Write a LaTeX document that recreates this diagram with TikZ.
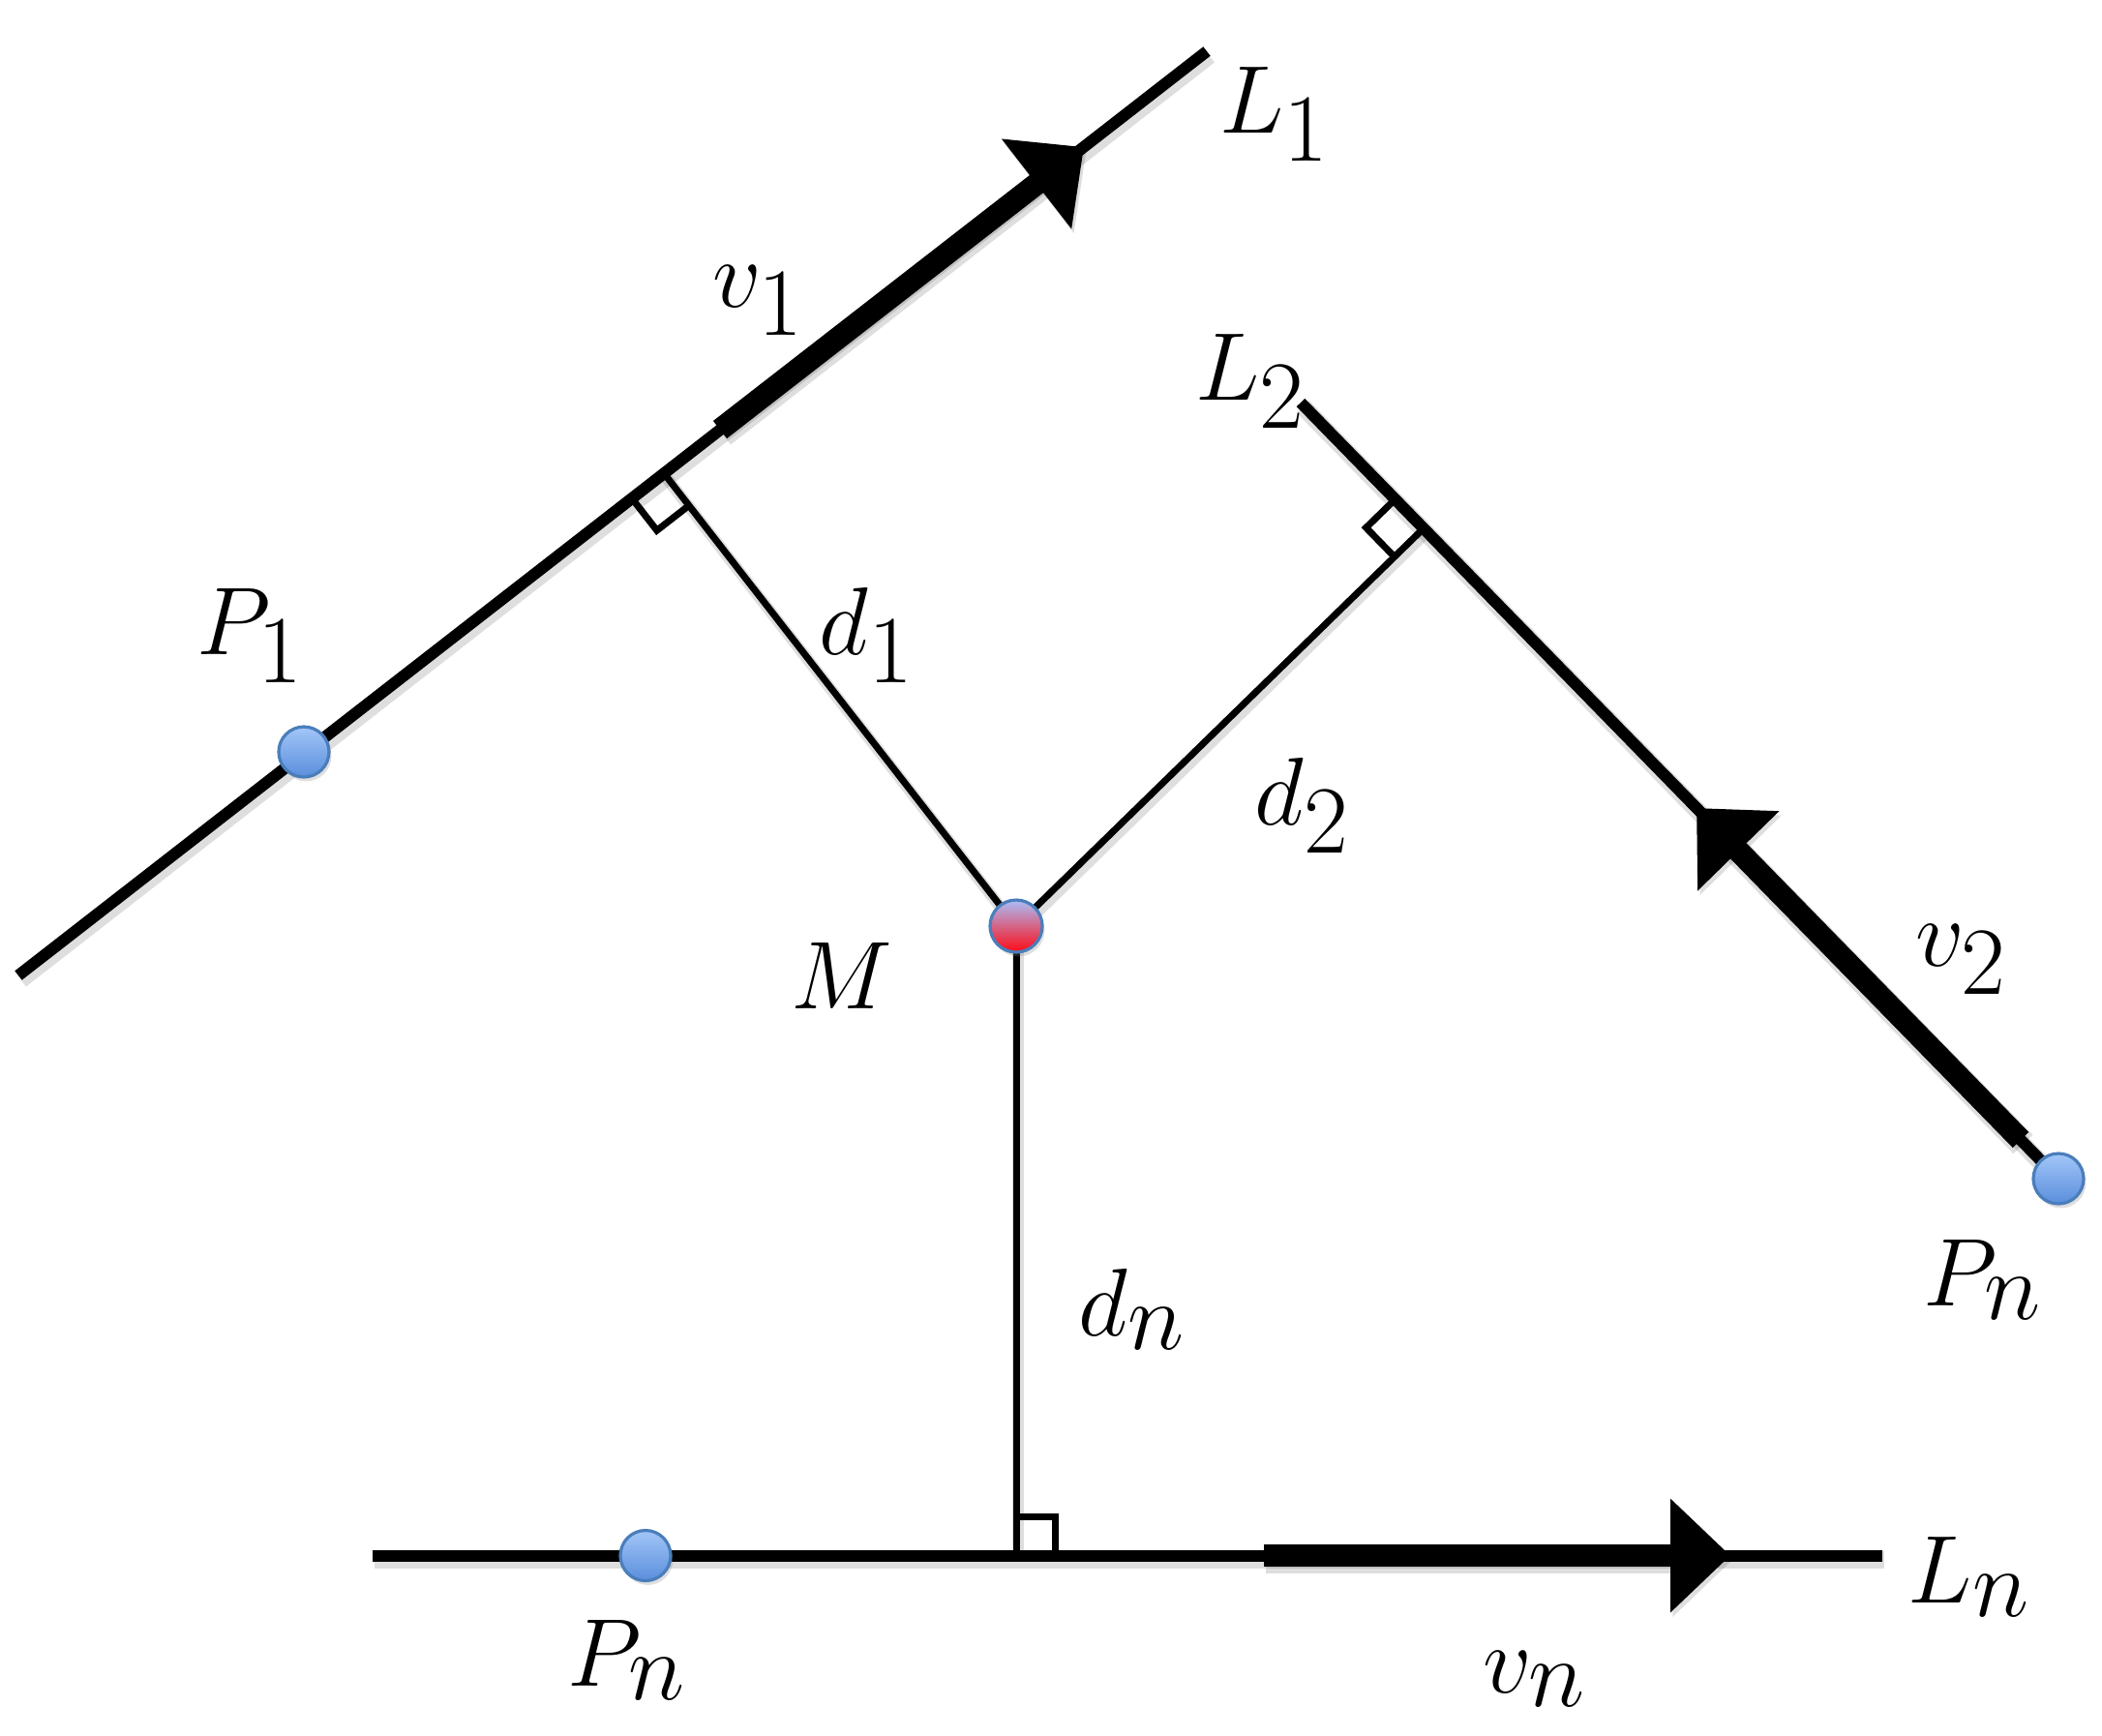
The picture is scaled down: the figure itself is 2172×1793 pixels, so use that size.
\documentclass[tikz,border=0pt]{standalone}
\usetikzlibrary{arrows.meta,calc,shadows}
\DeclareMathSizes{32}{32}{25}{20}
\definecolor{dotblueA}{HTML}{A3C6F8}
\definecolor{dotblueB}{HTML}{5A8EDC}
\definecolor{dotedge}{HTML}{4A7EBB}
\definecolor{mtop}{HTML}{A9BEF8}
\definecolor{mbot}{HTML}{FF0A14}
\pgfdeclarelayer{bg}
\pgfdeclarelayer{paper}
\pgfsetlayers{paper,bg,main}
\begin{document}
\begin{tikzpicture}[x=0.25pt,y=-0.25pt,
  softshadow/.style={preaction={draw=black,opacity=0.13,line width=#1,transform canvas={shift={(0.6pt,-1.1pt)}}}},
  thinline/.style={line width=3pt,softshadow=4.5pt},
  thickline/.style={line width=5.75pt,softshadow=7pt,-{Triangle[length=15.5pt,width=28.5pt]}},
  perpline/.style={line width=1.75pt,softshadow=3pt},
  rightmark/.style={line width=1.75pt},
  dotshadow/.style={drop shadow={opacity=0.25,shadow xshift=0.6pt,shadow yshift=-1.1pt}},
  bluedot/.style={circle,minimum size=13pt,inner sep=0pt,draw=dotedge,line width=0.8pt,top color=dotblueA,bottom color=dotblueB,dotshadow},
  reddot/.style={circle,minimum size=13.5pt,inner sep=0pt,draw=dotedge,line width=0.8pt,top color=mtop,bottom color=mbot,dotshadow},
  lbl/.style={anchor=base,inner sep=0pt,font=\fontsize{32}{38}\selectfont}]
\begin{pgfonlayer}{paper}
\fill[white] (0,0) rectangle (2172,1793);
\end{pgfonlayer}
\useasboundingbox (0,0) rectangle (2172,1793);

% line end points
\coordinate (L1s) at (19,1008);
\coordinate (L1e) at (1247,53);
\coordinate (V1s) at (744,444);
\coordinate (V1t) at (1120,152);
\coordinate (L2s) at (1344,416);
\coordinate (V2s) at (2088,1178);
\coordinate (V2t) at (1753,835);
\coordinate (Lns) at (385,1607.5);
\coordinate (Lne) at (1945,1607.5);
\coordinate (Vns) at (1306,1607.5);
\coordinate (Vnt) at (1788,1607.5);

% points
\node[reddot] (M) at (1050,957) {};
\node[bluedot] (P1) at (314,777) {};
\node[bluedot] (Pr) at (2127,1218) {};
\node[bluedot] (Pb) at (667,1607.5) {};

% feet of perpendiculars
\coordinate (F1) at ($(L1s)!(M.center)!(L1e)$);
\coordinate (F2) at ($(L2s)!(M.center)!(Pr.center)$);
\coordinate (F3) at ($(Lns)!(M.center)!(Lne)$);

\begin{pgfonlayer}{bg}
\draw[thinline] (L1s) -- (L1e);
\draw[thickline] (V1s) -- (V1t);
\draw[thinline] (L2s) -- (Pr.center);
\draw[thickline] (V2s) -- (V2t);
\draw[thinline] (Lns) -- (Lne);
\draw[thickline] (Vns) -- (Vnt);
\draw[perpline] (M.center) -- (F1);
\draw[perpline] (M.center) -- (F2);
\draw[perpline] (M.center) -- (F3);
% right-angle marks
\coordinate (A1) at ($(F1)!10.5pt!(L1s)$);
\coordinate (B1) at ($(F1)!10.5pt!(M.center)$);
\draw[rightmark] (A1) -- ($(A1)+(B1)-(F1)$) -- (B1);
\coordinate (A2) at ($(F2)!10.5pt!(L2s)$);
\coordinate (B2) at ($(F2)!10.5pt!(M.center)$);
\draw[rightmark] (A2) -- ($(A2)+(B2)-(F2)$) -- (B2);
\coordinate (A3) at ($(F3)!10pt!(Lne)$);
\coordinate (B3) at ($(F3)!10pt!(M.center)$);
\draw[rightmark] (A3) -- ($(A3)+(B3)-(F3)$) -- (B3);
\end{pgfonlayer}

% labels
\node[lbl] (tL1) at (1317,137) {$L_1$};
\node[lbl] (tv1) at (784,317) {$v_1$};
\node[lbl] (tL2) at (1292,413) {$L_2$};
\node[lbl] (tP1) at (259,676) {$P_1$};
\node[lbl] (td1) at (896,676) {$d_1$};
\node[lbl] (td2) at (1346,852) {$d_2$};
\node[lbl] (tM) at (870,1042) {$M$};
\node[lbl] (tv2) at (2027,998) {$v_2$};
\node[lbl] (tPr) at (2049,1349) {$P_n$};
\node[lbl] (tdn) at (1170,1380) {$d_n$};
\node[lbl] (tLn) at (2035,1656) {$L_n$};
\node[lbl] (tPb) at (648,1742) {$P_n$};
\node[lbl] (tvn) at (1586,1749) {$v_n$};
\end{tikzpicture}
\end{document}
